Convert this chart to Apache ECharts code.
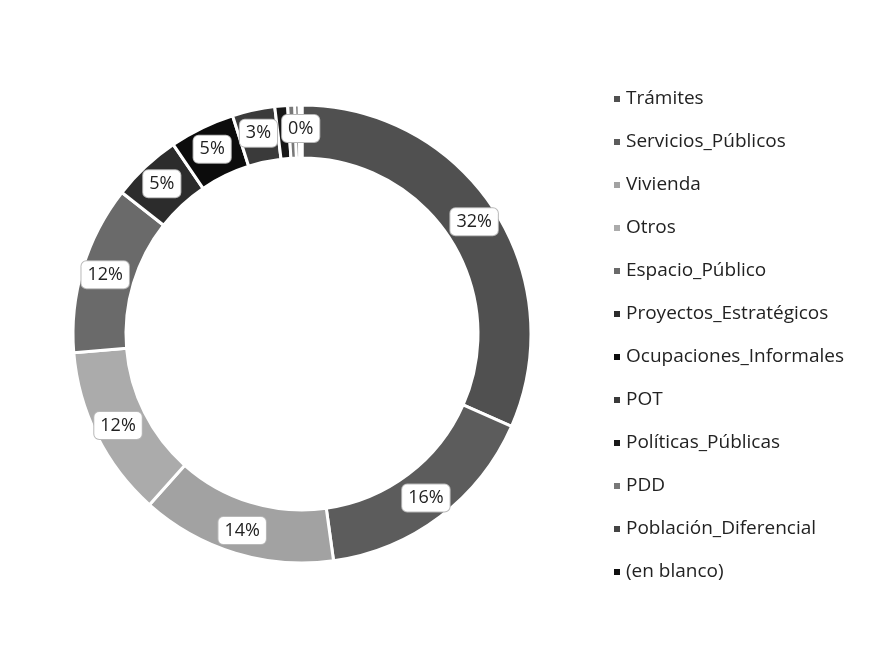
<!DOCTYPE html>
<html>
<head>
<meta charset="utf-8">
<script src="https://cdn.jsdelivr.net/npm/echarts@6/dist/echarts.min.js"></script>
<style>
  html, body { margin: 0; padding: 0; background: #fff; }
  #chart { width: 875px; height: 661px; }
</style>
</head>
<body>
<div id="chart"></div>
<script>
// categorias y valores (porcentaje aprox.)
var categorias = ['Trámites', 'Servicios_Públicos', 'Vivienda', 'Otros', 'Espacio_Público',
  'Proyectos_Estratégicos', 'Ocupaciones_Informales', 'POT', 'Políticas_Públicas', 'PDD',
  'Población_Diferencial', '(en blanco)'];
var valores = [31.6, 16.2, 13.8, 12.1, 11.9, 4.9, 4.6, 3.0, 0.9, 0.5, 0.3, 0.2];
var colores = ['#505050', '#5c5c5c', '#a2a2a2', '#ababab', '#6a6a6a', '#2c2c2c',
  '#0c0c0c', '#3a3a3a', '#181818', '#787878', '#444444', '#101010'];

var datos = categorias.map(function (c, i) {
  return { name: c, value: valores[i], itemStyle: { color: colores[i] } };
});

var chart = echarts.init(document.getElementById('chart'));
chart.setOption({
  backgroundColor: '#fff',
  animation: false,
  legend: {
    orient: 'vertical',
    left: 607,
    top: 82,
    itemWidth: 8,
    itemHeight: 8,
    itemGap: 19,
    icon: 'rect',
    textStyle: { fontFamily: 'Open Sans', fontSize: 19, color: '#222', lineHeight: 24 },
    data: categorias
  },
  series: [{
    type: 'pie',
    center: [302, 334],
    radius: [176, 229],
    startAngle: 90,
    clockwise: true,
    avoidLabelOverlap: false,
    itemStyle: { borderColor: '#fff', borderWidth: 3 },
    label: {
      show: true,
      position: 'inside',
      formatter: function (p) { return Math.round(p.percent) + '%'; },
      fontFamily: 'Open Sans',
      fontSize: 18,
      color: '#222',
      backgroundColor: '#fff',
      borderColor: '#b8b8b8',
      borderWidth: 1,
      borderRadius: 5,
      padding: [5, 6, 4, 6]
    },
    labelLine: { show: false },
    emphasis: { disabled: true },
    data: datos
  }]
});
</script>
</body>
</html>
